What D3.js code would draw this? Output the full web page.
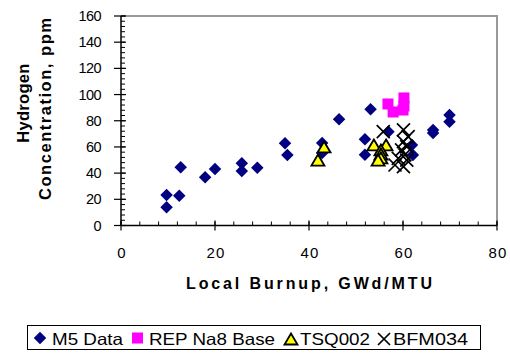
<!DOCTYPE html>
<html>
<head>
<meta charset="utf-8">
<script src="https://cdn.jsdelivr.net/npm/d3@7"></script>
<style>
  html, body { margin: 0; padding: 0; background: #fff; }
  svg { display: block; font-family: "Liberation Sans", Arial, sans-serif; }
</style>
</head>
<body>
<svg id="chart" width="510" height="356"></svg>
<script>
// Hydrogen concentration vs. local burnup, four data sets
const m5Data = [
  [9.7, 13.9], [9.7, 23.3], [12.4, 22.8], [12.7, 44.4], [17.9, 36.8], [20.0, 43.1],
  [25.7, 47.5], [25.7, 41.6], [29.0, 44.1], [34.9, 62.8], [35.4, 53.9],
  [42.8, 63.0], [42.8, 55.4], [46.4, 81.1], [53.1, 88.8], [51.9, 65.8], [51.9, 54.0],
  [56.9, 71.6], [61.9, 61.5], [62.1, 53.8], [66.4, 72.9], [66.4, 70.6],
  [69.9, 84.4], [69.9, 79.3]
];
const repNa8Base = [[56.8, 92.8], [57.9, 86.7], [60.2, 97.4], [60.2, 91.3], [60.0, 88.2]];
const tsq002 = [
  [41.9, 50.0], [43.2, 60.0], [53.8, 61.5], [56.4, 61.5],
  [55.3, 57.7], [55.3, 54.6], [55.3, 51.6], [54.7, 50.0]
];
const bfm034 = [
  [55.8, 71.7], [60.1, 73.0], [61.1, 67.8], [60.1, 64.0], [60.8, 60.2], [59.7, 57.7],
  [60.4, 53.9], [59.0, 51.3], [60.8, 50.0], [58.3, 46.2], [60.1, 44.9]
];
const xTicks = [0, 20, 40, 60, 80];
const yTicks = [0, 20, 40, 60, 80, 100, 120, 140, 160];
const legendLabels = ["M5 Data", "REP Na8 Base", "TSQ002", "BFM034"];

const svg = d3.select("#chart");
const x = d3.scaleLinear().domain([0, 80]).range([121, 497]);
const y = d3.scaleLinear().domain([0, 160]).range([225.5, 16]);

// plot frame: grey top and right edges
svg.append("path")
  .attr("d", `M${x(0)},${y(160)}H${x(80)}V${y(0)}`)
  .attr("fill", "none").attr("stroke", "#999").attr("stroke-width", 2);

// minor ticks (inside), every 4 units
const g = svg.append("g");
d3.range(0, 81, 4).forEach(v => {
  g.append("line").attr("x1", x(v)).attr("x2", x(v)).attr("y1", y(0)).attr("y2", y(0) - 4)
    .attr("stroke", "#000").attr("stroke-width", 1);
});
d3.range(0, 161, 4).forEach(v => {
  g.append("line").attr("x1", x(0)).attr("x2", x(0) + 4).attr("y1", y(v)).attr("y2", y(v))
    .attr("stroke", "#000").attr("stroke-width", 1);
});

// major ticks cross the axes
xTicks.forEach(v => {
  g.append("line").attr("x1", x(v)).attr("x2", x(v)).attr("y1", y(0) - 5).attr("y2", y(0) + 5)
    .attr("stroke", "#000").attr("stroke-width", 1.2);
});
yTicks.forEach(v => {
  g.append("line").attr("x1", x(0) - 7).attr("x2", x(0) + 5).attr("y1", y(v)).attr("y2", y(v))
    .attr("stroke", "#000").attr("stroke-width", 1.2);
});

// axis lines
g.append("line").attr("x1", x(0)).attr("x2", x(80)).attr("y1", y(0)).attr("y2", y(0))
  .attr("stroke", "#000").attr("stroke-width", 1.5);
g.append("line").attr("x1", x(0)).attr("x2", x(0)).attr("y1", y(0)).attr("y2", y(160))
  .attr("stroke", "#000").attr("stroke-width", 1.5);

// tick labels
svg.append("g").selectAll("text").data(yTicks).join("text")
  .attr("x", 101).attr("y", d => y(d) + 5)
  .attr("text-anchor", "end").attr("font-size", 14.5).attr("letter-spacing", -0.6)
  .text(d => d);
svg.append("g").selectAll("text").data(xTicks).join("text")
  .attr("x", d => x(d) + 1).attr("y", 258)
  .attr("text-anchor", "middle").attr("font-size", 15).attr("letter-spacing", 1.2)
  .text(d => d);

// axis titles
svg.append("text").attr("x", 309).attr("y", 289).attr("text-anchor", "middle")
  .attr("font-size", 16).attr("font-weight", "bold")
  .attr("textLength", 246).attr("lengthAdjust", "spacing")
  .text("Local Burnup, GWd/MTU");
svg.append("text").attr("transform", "translate(29,103) rotate(-90)").attr("text-anchor", "middle")
  .attr("font-size", 16.5).attr("font-weight", "bold").attr("letter-spacing", 0.3)
  .text("Hydrogen");
svg.append("text").attr("transform", "translate(51,109) rotate(-90)").attr("text-anchor", "middle")
  .attr("font-size", 16.5).attr("font-weight", "bold")
  .attr("textLength", 182).attr("lengthAdjust", "spacing")
  .text("Concentration, ppm");

// marker shapes
const diamond = d3.symbol().type(d3.symbolSquare).size(78);
const xMark = s => `M${-s},${-s}L${s},${s}M${-s},${s}L${s},${-s}`;
const tri = (w, h) => `M0,${-h / 2}L${w / 2},${h / 2}L${-w / 2},${h / 2}Z`;

const marks = svg.append("g");
marks.selectAll("path.m5").data(m5Data).join("path").attr("class", "m5")
  .attr("d", diamond())
  .attr("transform", d => `translate(${x(d[0])},${y(d[1])}) rotate(45)`)
  .attr("fill", "#000080");
marks.selectAll("rect.rep").data(repNa8Base).join("rect").attr("class", "rep")
  .attr("x", d => x(d[0]) - 5.5).attr("y", d => y(d[1]) - 5.5)
  .attr("width", 11).attr("height", 11)
  .attr("fill", "#ff00ff");
marks.selectAll("path.tsq").data(tsq002).join("path").attr("class", "tsq")
  .attr("d", tri(13, 11))
  .attr("transform", d => `translate(${x(d[0])},${y(d[1])})`)
  .attr("fill", "#ffff00").attr("stroke", "#000").attr("stroke-width", 1.8)
  .attr("stroke-linejoin", "miter");
marks.selectAll("path.bfm").data(bfm034).join("path").attr("class", "bfm")
  .attr("d", xMark(6.5))
  .attr("transform", d => `translate(${x(d[0])},${y(d[1])})`)
  .attr("fill", "none").attr("stroke", "#000").attr("stroke-width", 1.7);

// legend
const lg = svg.append("g");
lg.append("rect").attr("x", 27.5).attr("y", 325.5).attr("width", 453).attr("height", 24)
  .attr("fill", "#fff").attr("stroke", "#000").attr("stroke-width", 1);
const ly = 338;
lg.append("path").attr("d", diamond())
  .attr("transform", `translate(40,${ly}) rotate(45)`).attr("fill", "#000080");
lg.append("rect").attr("x", 132).attr("y", ly - 5.5).attr("width", 11).attr("height", 11).attr("fill", "#ff00ff");
lg.append("path").attr("d", tri(13, 11)).attr("transform", `translate(291,${ly + 1})`)
  .attr("fill", "#ffff00").attr("stroke", "#000").attr("stroke-width", 1.8);
lg.append("path").attr("d", xMark(6)).attr("transform", `translate(384,${ly + 1})`)
  .attr("fill", "none").attr("stroke", "#000").attr("stroke-width", 1.7);
const legendX = [52, 149, 300, 393];
const legendW = [71, 126, 70, 75];
lg.selectAll("text").data(legendLabels).join("text")
  .attr("x", (d, i) => legendX[i]).attr("y", 345)
  .attr("font-size", 16.5)
  .attr("textLength", (d, i) => legendW[i]).attr("lengthAdjust", "spacingAndGlyphs")
  .text(d => d);
</script>
</body>
</html>
